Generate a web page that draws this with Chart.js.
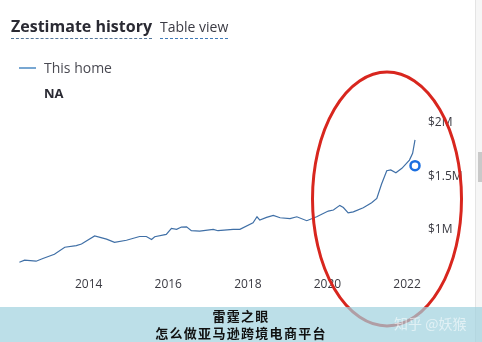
<!DOCTYPE html>
<html lang="en">
<head>
    <meta charset="UTF-8">
    <title>Zestimate history</title>
    <script src="https://cdn.jsdelivr.net/npm/chart.js"></script>
    <style>
        html, body { margin: 0; padding: 0; background: #fff; }
        body { width: 482px; height: 342px; position: relative; overflow: hidden; font-family: 'Open Sans', sans-serif; }
        #chart { position: absolute; left: 0; top: 0; }
        .title { position: absolute; left: 11px; top: 15px; font-size: 16px; font-weight: 700; color: #2a2a33; border-bottom: 1px dashed #54769a; line-height: 22px; padding-bottom: 1px; }
        .tableview { position: absolute; left: 160px; top: 16px; font-size: 14px; color: #3b3b44; border-bottom: 1px dashed #3f7ab8; line-height: 21px; padding-bottom: 1px; }
        .legend-line { position: absolute; left: 19px; top: 67px; width: 17px; height: 2px; background: #78a7d2; }
        .legend-text { position: absolute; left: 44px; top: 58px; font-size: 14px; color: #4a4a52; }
        .legend-na { position: absolute; left: 44px; top: 84px; font-size: 13px; font-weight: 700; color: #2a2a33; }
        .scroll { position: absolute; left: 475px; top: 0; width: 7px; height: 342px; background: #f6f6f6; border-left: 1px solid #e4e4e4; }
        .thumb { position: absolute; left: 478px; top: 152px; width: 4px; height: 30px; background: #c9c9c9; }
        .banner { position: absolute; left: 0; top: 307px; width: 482px; height: 35px; background: rgba(159, 209, 222, 0.7); text-align: center; font-family: 'Noto Sans CJK SC', sans-serif; font-weight: 700; color: #111; font-size: 13px; line-height: 17px; letter-spacing: 1.3px; }
        .watermark { position: absolute; left: 394px; top: 8px; font-size: 14px; color: rgba(255, 255, 255, 0.55); font-weight: 400; letter-spacing: 0; }
    </style>
</head>
<body>
    <canvas id="chart" width="482" height="342"></canvas>
    <div class="title">Zestimate history</div>
    <div class="tableview">Table view</div>
    <div class="legend-line"></div>
    <div class="legend-text">This home</div>
    <div class="legend-na">NA</div>
    <div class="scroll"></div>
    <div class="thumb"></div>
    <div class="banner">
        <div>雷霆之眼</div>
        <div>怎么做亚马逊跨境电商平台</div>
        <div class="watermark">知乎 @妖猴</div>
    </div>
    <script>
        // values (year as decimal, dollars)
        const dates = [2012.26, 2012.39, 2012.68, 2012.85, 2013.14, 2013.40, 2013.69, 2013.82, 2014.15, 2014.45,
            2014.65, 2014.95, 2015.28, 2015.45, 2015.58, 2015.66, 2015.95, 2016.08, 2016.21, 2016.33,
            2016.46, 2016.58, 2016.79, 2017.13, 2017.25, 2017.63, 2017.80, 2018.13, 2018.23, 2018.30,
            2018.47, 2018.64, 2018.81, 2019.06, 2019.23, 2019.48, 2019.73, 2020.02, 2020.15, 2020.31,
            2020.40, 2020.52, 2020.65, 2020.90, 2021.11, 2021.24, 2021.36, 2021.49, 2021.59, 2021.72,
            2021.87, 2022.06, 2022.14, 2022.20];
        const values = [700000, 720000, 710000, 735000, 775000, 840000, 855000, 870000, 945000, 915000,
            885000, 905000, 940000, 940000, 913000, 938000, 960000, 1015000, 1007000, 1028000,
            1030000, 995000, 990000, 1007000, 994000, 1007000, 1007000, 1068000, 1124000, 1093000,
            1118000, 1137000, 1115000, 1107000, 1124000, 1087000, 1124000, 1177000, 1187000, 1230000,
            1210000, 1161000, 1170000, 1208000, 1254000, 1295000, 1429000, 1553000, 1560000, 1534000,
            1575000, 1652000, 1715000, 1840000];
        const markerDate = [2022.20];
        const markerValue = [1600000];
        const xTicks = [2014, 2016, 2018, 2020, 2022];
        const yTicks = [1000000, 1500000, 2000000];

        const circlePlugin = {
            id: 'redCircle',
            afterDraw(chart) {
                const ctx = chart.ctx;
                ctx.save();
                ctx.beginPath();
                ctx.ellipse(387, 199, 74.5, 127, 0, 0, Math.PI * 2);
                ctx.strokeStyle = '#d8261e';
                ctx.lineWidth = 3;
                ctx.stroke();
                ctx.restore();
            }
        };

        new Chart(document.getElementById('chart'), {
            type: 'line',
            data: {
                datasets: [{
                    data: dates.map((d, i) => ({ x: d, y: values[i] })),
                    borderColor: '#3f6fa6',
                    borderWidth: 1.2,
                    pointRadius: 0,
                    tension: 0
                }, {
                    data: markerDate.map((d, i) => ({ x: d, y: markerValue[i] })),
                    showLine: false,
                    pointRadius: 4.5,
                    pointBorderWidth: 2.5,
                    pointBorderColor: '#1b6fe0',
                    pointBackgroundColor: '#ffffff',
                    clip: false
                }]
            },
            options: {
                responsive: false,
                animation: false,
                events: [],
                layout: { padding: { top: 112, left: 19, right: 0, bottom: 39 } },
                plugins: { legend: { display: false }, tooltip: { enabled: false } },
                scales: {
                    x: {
                        type: 'linear',
                        min: 2012.25,
                        max: 2022.25,
                        grid: { display: false, drawTicks: false },
                        border: { display: false },
                        afterBuildTicks: s => { s.ticks = xTicks.map(v => ({ value: v })); },
                        afterFit: s => { s.height = 30; },
                        ticks: {
                            padding: 4,
                            maxRotation: 0,
                            color: '#3a3a42',
                            font: { family: 'Open Sans', size: 12 },
                            callback: v => String(v)
                        }
                    },
                    y: {
                        position: 'right',
                        min: 600000,
                        max: 2100000,
                        grid: { display: false, drawTicks: false },
                        border: { display: false },
                        afterBuildTicks: s => { s.ticks = yTicks.map(v => ({ value: v })); },
                        afterFit: s => { s.width = 65; },
                        ticks: {
                            padding: 11,
                            color: '#3a3a42',
                            font: { family: 'Open Sans', size: 12 },
                            callback: v => '$' + (v / 1000000) + 'M'
                        }
                    }
                }
            },
            plugins: [circlePlugin]
        });
    </script>
</body>
</html>
